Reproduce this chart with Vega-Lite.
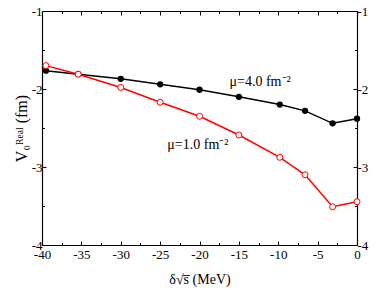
{
  "$schema": "https://vega.github.io/schema/vega-lite/v6.json",
  "width": 315,
  "height": 234,
  "autosize": "none",
  "padding": {"left": 42, "top": 11, "right": 17, "bottom": 45},
  "background": "white",
  "config": {
    "view": {"stroke": null},
    "font": "Liberation Serif",
    "axis": {
      "grid": false,
      "domainColor": "black",
      "domainWidth": 1.2,
      "tickColor": "black",
      "tickWidth": 1,
      "labelFlush": false,
      "labelOverlap": false,
      "labelBound": false,
      "labelFont": "Liberation Serif",
      "labelFontSize": 13,
      "labelColor": "black",
      "titleFont": "Liberation Serif",
      "titleColor": "black",
      "titleFontWeight": "normal"
    }
  },
  "datasets": {
    "pts": [
      {"series": "4.0", "x": -39.5, "y": -1.765},
      {"series": "4.0", "x": -35.4, "y": -1.81},
      {"series": "4.0", "x": -30, "y": -1.87},
      {"series": "4.0", "x": -25, "y": -1.94},
      {"series": "4.0", "x": -20, "y": -2.01},
      {"series": "4.0", "x": -15, "y": -2.10},
      {"series": "4.0", "x": -9.8, "y": -2.20},
      {"series": "4.0", "x": -6.6, "y": -2.28},
      {"series": "4.0", "x": -3.1, "y": -2.44},
      {"series": "4.0", "x": 0, "y": -2.38},
      {"series": "1.0", "x": -39.5, "y": -1.70},
      {"series": "1.0", "x": -35.4, "y": -1.81},
      {"series": "1.0", "x": -30, "y": -1.98},
      {"series": "1.0", "x": -25, "y": -2.17},
      {"series": "1.0", "x": -20, "y": -2.35},
      {"series": "1.0", "x": -15, "y": -2.59},
      {"series": "1.0", "x": -9.8, "y": -2.876},
      {"series": "1.0", "x": -6.6, "y": -3.10},
      {"series": "1.0", "x": -3.1, "y": -3.51},
      {"series": "1.0", "x": 0, "y": -3.445}
    ],
    "labels": [
      {"x": -12.3, "y": -1.91, "text": "μ=4.0 fm⁻²"},
      {"x": -20.2, "y": -2.72, "text": "μ=1.0 fm⁻²"}
    ]
  },
  "resolve": {"axis": {"x": "independent", "y": "independent"}},
  "layer": [
    {
      "data": {"name": "pts"},
      "mark": {"type": "line", "strokeWidth": 1.5},
      "encoding": {
        "x": {
          "field": "x", "type": "quantitative",
          "scale": {"domain": [-40, 0], "nice": false, "zero": false},
          "axis": {
            "orient": "bottom",
            "values": [-40, -37.5, -35, -32.5, -30, -27.5, -25, -22.5, -20, -17.5, -15, -12.5, -10, -7.5, -5, -2.5, 0],
            "labelExpr": "datum.value % 5 == 0 ? '' + datum.value : ''",
            "tickSize": {"condition": {"test": "datum.value % 5 == 0", "value": -4}, "value": -2.5},
            "labelPadding": 7,
            "title": "δ√s̅ (MeV)",
            "titleFontSize": 14,
            "titlePadding": 10
          }
        },
        "y": {
          "field": "y", "type": "quantitative",
          "scale": {"domain": [-4, -1], "nice": false, "zero": false},
          "axis": {
            "orient": "left",
            "values": [-4, -3.5, -3, -2.5, -2, -1.5, -1],
            "labelExpr": "datum.value % 1 == 0 ? '' + datum.value : ''",
            "tickSize": {"condition": {"test": "datum.value % 1 == 0", "value": -4}, "value": -2.5},
            "labelPadding": 4,
            "title": "V₀ᴿᵉᵃˡ (fm)",
            "titleFontSize": 16,
            "titlePadding": 2
          }
        },
        "color": {
          "field": "series", "type": "nominal",
          "scale": {"domain": ["4.0", "1.0"], "range": ["black", "red"]},
          "legend": null
        }
      }
    },
    {
      "data": {"name": "pts"},
      "transform": [{"filter": "datum.series == '4.0'"}],
      "mark": {"type": "point", "filled": true, "color": "black", "size": 40, "opacity": 1},
      "encoding": {
        "x": {"field": "x", "type": "quantitative",
          "scale": {"domain": [-40, 0], "nice": false, "zero": false},
          "axis": {
            "orient": "top",
            "values": [-40, -37.5, -35, -32.5, -30, -27.5, -25, -22.5, -20, -17.5, -15, -12.5, -10, -7.5, -5, -2.5, 0],
            "labels": false,
            "tickSize": {"condition": {"test": "datum.value % 5 == 0", "value": -4}, "value": -2.5},
            "title": null
          }},
        "y": {"field": "y", "type": "quantitative",
          "scale": {"domain": [-4, -1], "nice": false, "zero": false},
          "axis": {
            "orient": "right",
            "values": [-4, -3.5, -3, -2.5, -2, -1.5, -1],
            "labelExpr": "datum.value % 1 == 0 ? '' + datum.value : ''",
            "tickSize": {"condition": {"test": "datum.value % 1 == 0", "value": -4}, "value": -2.5},
            "labelPadding": 4,
            "title": null
          }}
      }
    },
    {
      "data": {"name": "pts"},
      "transform": [{"filter": "datum.series == '1.0'"}],
      "mark": {"type": "point", "filled": false, "fill": "white", "stroke": "red", "strokeWidth": 1, "size": 36, "opacity": 1},
      "encoding": {
        "x": {"field": "x", "type": "quantitative", "scale": {"domain": [-40, 0], "nice": false, "zero": false}, "axis": null},
        "y": {"field": "y", "type": "quantitative", "scale": {"domain": [-4, -1], "nice": false, "zero": false}, "axis": null}
      }
    },
    {
      "data": {"name": "labels"},
      "mark": {"type": "text", "font": "Liberation Serif", "fontSize": 14, "color": "black", "align": "center", "baseline": "middle"},
      "encoding": {
        "x": {"field": "x", "type": "quantitative", "scale": {"domain": [-40, 0], "nice": false, "zero": false}, "axis": null},
        "y": {"field": "y", "type": "quantitative", "scale": {"domain": [-4, -1], "nice": false, "zero": false}, "axis": null},
        "text": {"field": "text"}
      }
    }
  ]
}
